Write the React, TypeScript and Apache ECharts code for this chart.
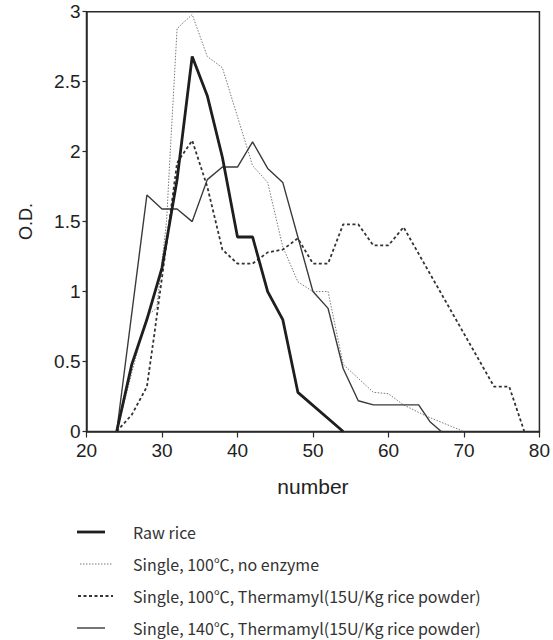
import React, { useEffect, useRef } from "react";
import * as echarts from "echarts";

const seriesNames = [
  "Raw rice",
  "Single, 100\u2103, no enzyme",
  "Single, 100\u2103, Thermamyl(15U/Kg rice powder)",
  "Single, 140\u2103, Thermamyl(15U/Kg rice powder)",
];

const rawRice: [number, number][] = [
  [24, 0], [26, 0.48], [28, 0.8], [30, 1.17], [32, 1.8], [34, 2.68], [36, 2.4],
  [38, 1.96], [40, 1.39], [42, 1.39], [44, 1.0], [46, 0.8], [48, 0.28], [54, 0],
];

const noEnzyme: [number, number][] = [
  [24, 0], [26, 0.42], [28, 0.83], [29.3, 0.88], [30.6, 1.5], [31.2, 2.1], [32, 2.88],
  [34, 2.98], [36, 2.68], [38, 2.6], [42, 1.9], [44, 1.78], [46, 1.32], [48, 1.07],
  [50, 1.0], [52, 1.0], [54, 0.48], [58, 0.28], [60, 0.27], [62, 0.19], [65, 0.11], [70, 0],
];

const thermamyl100: [number, number][] = [
  [24, 0], [26, 0.12], [28, 0.32], [29, 0.7], [30, 1.1], [32, 1.92], [34, 2.08],
  [36, 1.75], [38, 1.3], [40, 1.2], [42, 1.2], [44, 1.28], [46, 1.3], [48, 1.38],
  [50, 1.2], [52, 1.2], [54, 1.48], [56, 1.48], [58, 1.33], [60, 1.33], [62, 1.46],
  [74, 0.32], [76, 0.32], [78, 0],
];

const thermamyl140: [number, number][] = [
  [24, 0], [28, 1.69], [30, 1.59], [32, 1.59], [34, 1.5], [36, 1.8], [38, 1.89],
  [40, 1.89], [42, 2.07], [44, 1.88], [46, 1.78], [50, 1.0], [52, 0.88], [54, 0.45],
  [56, 0.22], [58, 0.19], [64, 0.19], [65.5, 0.07], [67, 0],
];

const xMin = 20;
const xMax = 80;
const xStep = 10;
const yMin = 0;
const yMax = 3;
const yStep = 0.5;

type LS = { color: string; width: number; type: "solid" | number[] };
const styles: LS[] = [
  { color: "#1e1e1e", width: 2.8, type: "solid" },
  { color: "#7a7a7a", width: 1, type: [1.5, 1.5] },
  { color: "#333333", width: 1.8, type: [3, 2.5] },
  { color: "#3a3a3a", width: 1.4, type: "solid" },
];

export default function App() {
  const ref = useRef<HTMLDivElement>(null);
  useEffect(() => {
    if (!ref.current) return;
    const chart = echarts.init(ref.current, undefined, { renderer: "svg" });
    const axisFont = "'Liberation Sans', Arial, sans-serif";
    const legendFont = "'Noto Sans CJK KR', 'Noto Sans', sans-serif";
    const rowY = [532, 564, 596, 628];
    const sampleX = [[77, 105], [80, 113], [78, 113], [77, 105]];
    const legendEls: any[] = [];
    seriesNames.forEach((n, i) => {
      const s = styles[i];
      legendEls.push({
        type: "line",
        shape: { x1: sampleX[i][0], y1: rowY[i], x2: sampleX[i][1], y2: rowY[i] },
        style: {
          stroke: s.color,
          lineWidth: s.width,
          lineDash: s.type === "solid" ? null : s.type,
        },
      });
      legendEls.push({
        type: "text",
        x: 133,
        y: rowY[i],
        style: {
          text: n,
          fontFamily: legendFont,
          fontSize: 16,
          fill: "#333",
          verticalAlign: "middle",
        },
      });
    });
    const data = [rawRice, noEnzyme, thermamyl100, thermamyl140];
    chart.setOption({
      animation: false,
      backgroundColor: "#ffffff",
      grid: {
        left: 86.5,
        right: 13.5,
        top: 11.7,
        bottom: 208.5,
        show: true,
        borderColor: "#2a2a2a",
        borderWidth: 1.5,
      },
      xAxis: {
        type: "value",
        min: xMin,
        max: xMax,
        interval: xStep,
        name: "number",
        nameLocation: "middle",
        nameGap: 44,
        nameTextStyle: { fontFamily: axisFont, fontSize: 21, color: "#222" },
        axisLine: { lineStyle: { color: "#2a2a2a", width: 1.5 } },
        axisTick: { inside: false, length: 6, lineStyle: { color: "#2a2a2a", width: 1.2 } },
        axisLabel: { fontFamily: axisFont, fontSize: 19, color: "#222", margin: 9 },
        splitLine: { show: false },
      },
      yAxis: {
        type: "value",
        min: yMin,
        max: yMax,
        interval: yStep,
        name: "O.D.",
        nameLocation: "middle",
        nameGap: 52,
        nameRotate: 90,
        nameTextStyle: { fontFamily: axisFont, fontSize: 18, color: "#222" },
        axisLine: { lineStyle: { color: "#2a2a2a", width: 1.5 } },
        axisTick: { inside: false, length: 4, lineStyle: { color: "#2a2a2a", width: 1.2 } },
        axisLabel: { fontFamily: axisFont, fontSize: 19, color: "#222", margin: 6 },
        splitLine: { show: false },
      },
      graphic: legendEls,
      series: data.map((d, i) => ({
        name: seriesNames[i],
        type: "line",
        data: d,
        symbol: "none",
        lineStyle: { color: styles[i].color, width: styles[i].width, type: styles[i].type },
        itemStyle: { color: styles[i].color },
        z: [5, 2, 3, 4][i],
      })),
    });
    return () => chart.dispose();
  }, []);
  return (
    <div
      ref={ref}
      style={{ position: "fixed", left: 0, top: 0, width: 553, height: 640, background: "#fff" }}
    />
  );
}
